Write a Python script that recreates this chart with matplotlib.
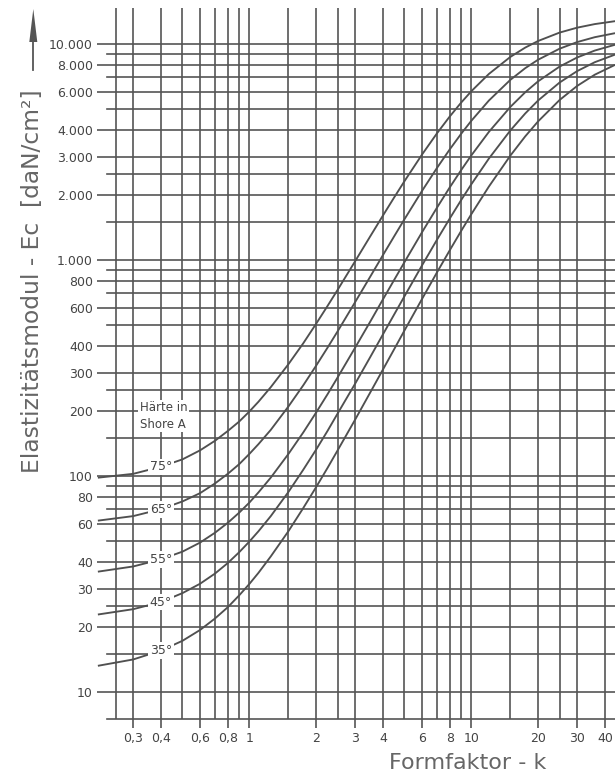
import matplotlib
matplotlib.use("Agg")
import matplotlib.pyplot as plt
from matplotlib.lines import Line2D
from matplotlib.patches import Polygon

# ---- data ----
k_values = [0.21, 0.3, 0.4, 0.5, 0.6, 0.7, 0.8, 0.9, 1, 1.1, 1.25, 1.5, 1.75, 2, 2.25,
            2.5, 3, 3.5, 4, 4.5, 5, 6, 7, 8, 9, 10, 12, 15, 17.5, 20, 25, 30, 36, 44]
ec_75 = [98, 102, 110, 119, 131, 145, 161, 178, 198, 220, 257, 328, 410, 505, 610,
         725, 985, 1279, 1601, 1946, 2309, 3068, 3842, 4604, 5335, 6022, 7242, 8688, 9595,
         10294, 11260, 11866, 12326, 12697]
ec_65 = [62, 65, 70, 76, 83, 92, 102, 113, 126, 140, 163, 209, 262, 323, 391,
         466, 637, 832, 1050, 1286, 1539, 2082, 2656, 3242, 3826, 4394, 5454, 6803, 7705,
         8431, 9484, 10176, 10719, 11167]
ec_55 = [36, 38, 41, 44.5, 49, 54.4, 60.5, 67.4, 75, 83.7, 98, 126, 158.5, 196, 238,
         285, 392, 515, 655, 808, 974, 1340, 1739, 2162, 2598, 3038, 3904, 5098, 5960,
         6697, 7837, 8637, 9296, 9862]
ec_45 = [22.8, 24.1, 26, 28.6, 31.6, 35.2, 39.4, 44.2, 49.5, 55.3, 65, 84, 106.5, 132, 161,
         194, 267, 353, 451, 559, 677, 941, 1235, 1552, 1887, 2233, 2938, 3967, 4754,
         5459, 6612, 7470, 8210, 8871]
ec_35 = [13.2, 14.1, 15.5, 17.2, 19.3, 21.8, 24.6, 27.9, 31.5, 35.5, 42.3, 55.3, 70.8, 88.5, 108.5,
         131, 182, 242, 310, 386, 470, 658, 872, 1106, 1358, 1623, 2180, 3034, 3724,
         4369, 5489, 6378, 7187, 7944]
series = [("75°", ec_75), ("65°", ec_65), ("55°", ec_55), ("45°", ec_45), ("35°", ec_35)]

x_major = [0.3, 0.4, 0.6, 0.8, 1, 2, 3, 4, 6, 8, 10, 20, 30, 40]
x_major_labels = ["0,3", "0,4", "0,6", "0,8", "1", "2", "3", "4", "6", "8", "10", "20", "30", "40"]
x_minor = [0.25, 0.5, 0.7, 0.9, 1.5, 2.5, 5, 7, 9, 15, 25]
y_major = [10, 20, 30, 40, 60, 80, 100, 200, 300, 400, 600, 800,
           1000, 2000, 3000, 4000, 6000, 8000, 10000]
y_major_labels = ["10", "20", "30", "40", "60", "80", "100", "200", "300", "400", "600", "800",
                  "1.000", "2.000", "3.000", "4.000", "6.000", "8.000", "10.000"]
y_minor = [15, 25, 50, 70, 90, 150, 250, 500, 700, 900, 1500, 2500, 5000, 7000, 9000]

label_k = 0.4
label_y = [110, 69.7, 40.9, 26.0, 15.5]

# ---- figure ----
W, H = 615, 774
fig = plt.figure(figsize=(W / 100, H / 100), dpi=100)
fig.patch.set_facecolor("white")
L, R, B, T = 97, 615, 719.3, 8.3
ax = fig.add_axes([L / W, (H - B) / H, (R - L) / W, (B - T) / H])
ax.set_xscale("log")
ax.set_yscale("log")
xlo, xhi = 0.2061, 44.4
ylo, yhi = 7.45, 14585
ax.set_xlim(xlo, xhi)
ax.set_ylim(ylo, yhi)
for s in ax.spines.values():
    s.set_visible(False)

gc = "#555555"
glw = 1.2
minor_start = 10 / (R - L)

for x in x_major + x_minor:
    ax.axvline(x, color=gc, lw=glw, zorder=1)
for y in y_major:
    ax.axhline(y, color=gc, lw=glw, zorder=1)
for y in y_minor:
    ax.axhline(y, xmin=minor_start, xmax=1, color=gc, lw=glw, zorder=1)
ax.axhline(ylo, xmin=minor_start, xmax=1, color=gc, lw=glw, zorder=1, clip_on=False)

for (lab, vals), ly in zip(series, label_y):
    ax.plot(k_values, vals, color="#505050", lw=1.35, zorder=3, solid_joinstyle="round")
    ax.text(label_k, ly, lab, ha="center", va="center", fontsize=9,
            color="#444444", zorder=5,
            bbox=dict(facecolor="white", edgecolor="none", pad=1.2))

ax.text(0.41, 189, "Härte in\nShore A", ha="center", va="center", fontsize=8.5,
        color="#444444", linespacing=1.35, zorder=5,
        bbox=dict(facecolor="white", edgecolor="none", pad=1.0))

ax.set_xticks(x_major)
ax.set_xticklabels(x_major_labels)
ax.set_xticks([], minor=True)
ax.set_yticks(y_major)
ax.set_yticklabels(y_major_labels)
ax.set_yticks([], minor=True)
ax.tick_params(axis="x", which="major", length=6.5, width=glw, color=gc, direction="out",
               pad=3, labelsize=9, labelcolor="#444444")
ax.tick_params(axis="y", which="major", length=0, pad=3, labelsize=9, labelcolor="#444444")

# axis titles
fig.text(33 / W, 1 - 281 / H, "Elastizitätsmodul - Ec  [daN/cm²]", rotation=90,
         ha="center", va="center", fontsize=16.8, color="#666666")
fig.text(468 / W, 1 - 769 / H, "Formfaktor - k", ha="center", va="baseline",
         fontsize=16, color="#666666")

# arrow beside the y axis title
ax_x = 33.3
fig.add_artist(Line2D([ax_x / W, ax_x / W], [1 - 70 / H, 1 - 40 / H],
                      transform=fig.transFigure, color="#555555", lw=1.3))
fig.add_artist(Polygon([[(ax_x - 4) / W, 1 - 42 / H], [(ax_x + 4) / W, 1 - 42 / H],
                        [ax_x / W, 1 - 9 / H]], closed=True, transform=fig.transFigure,
                       facecolor="#555555", edgecolor="none"))

fig.savefig("out.png", dpi=100, facecolor="white")
